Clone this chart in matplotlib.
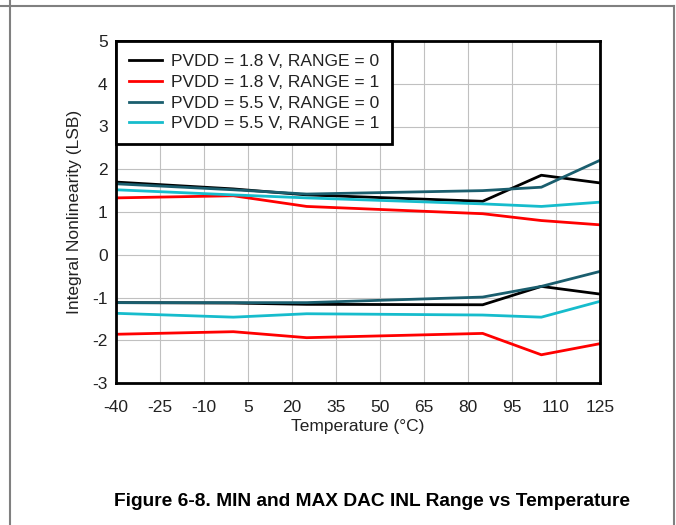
import numpy as np
import matplotlib
matplotlib.use("Agg")
import matplotlib.pyplot as plt
from matplotlib.lines import Line2D
from matplotlib import font_manager

# temperature points (deg C)
temps = [-40, 0, 25, 85, 105, 125]

# max / min INL (LSB) per configuration
inl_18_r0_max = [1.70, 1.54, 1.40, 1.25, 1.86, 1.68]
inl_18_r0_min = [-1.12, -1.13, -1.16, -1.17, -0.74, -0.92]
inl_18_r1_max = [1.33, 1.38, 1.13, 0.96, 0.80, 0.70]
inl_18_r1_min = [-1.86, -1.80, -1.94, -1.84, -2.34, -2.08]
inl_55_r0_max = [1.66, 1.52, 1.42, 1.50, 1.58, 2.21]
inl_55_r0_min = [-1.12, -1.12, -1.12, -0.99, -0.74, -0.39]
inl_55_r1_max = [1.52, 1.40, 1.33, 1.19, 1.13, 1.23]
inl_55_r1_min = [-1.37, -1.46, -1.38, -1.41, -1.46, -1.09]

labels = ["PVDD = 1.8 V, RANGE = 0", "PVDD = 1.8 V, RANGE = 1",
          "PVDD = 5.5 V, RANGE = 0", "PVDD = 5.5 V, RANGE = 1"]
colors = ["#000000", "#ff0000", "#1a5e6e", "#16bccc"]

xticks = [-40, -25, -10, 5, 20, 35, 50, 65, 80, 95, 110, 125]

names = {f.name for f in font_manager.fontManager.ttflist}
title_font = "Liberation Sans Narrow" if "Liberation Sans Narrow" in names else "Liberation Sans"

plt.rcParams["font.family"] = ["Liberation Sans", "DejaVu Sans"]
plt.rcParams["axes.unicode_minus"] = False

fs = 12.5
txt = "#222222"

fig = plt.figure(figsize=(6.76, 5.25), dpi=100)
W, H = 676, 525
ax = fig.add_axes([116 / W, 1 - 383 / H, (600 - 116) / W, (383 - 41) / H])

series = [(inl_18_r0_max, inl_18_r0_min), (inl_18_r1_max, inl_18_r1_min),
          (inl_55_r0_max, inl_55_r0_min), (inl_55_r1_max, inl_55_r1_min)]
for (hi, lo), c, lab in zip(series, colors, labels):
    ax.plot(temps, hi, color=c, lw=2, label=lab)
    ax.plot(temps, lo, color=c, lw=2)

ax.set_xlim(-40, 125)
ax.set_ylim(-3, 5)
ax.set_xticks(xticks)
ax.set_yticks(range(-3, 6))
ax.grid(True, color="#c0c0c0", lw=0.8)
ax.set_axisbelow(True)
ax.tick_params(length=0, labelsize=fs, labelcolor=txt)
ax.tick_params(axis="x", pad=12)
ax.tick_params(axis="y", pad=6)
for s in ax.spines.values():
    s.set_linewidth(2)
    s.set_color("black")

ax.set_xlabel("Temperature (°C)", fontsize=fs, color=txt, labelpad=3)
ax.set_ylabel("Integral Nonlinearity (LSB)", fontsize=fs, color=txt, labelpad=7)

leg = ax.legend(loc="upper left", bbox_to_anchor=(0, 1), fontsize=fs,
                fancybox=False, framealpha=1, edgecolor="black",
                borderaxespad=0, handlelength=1.9, handletextpad=0.5,
                labelspacing=0.32, borderpad=0.75)
leg.get_frame().set_linewidth(2)
for t in leg.get_texts():
    t.set_color(txt)

# page frame
fig.add_artist(Line2D([0, 674 / W], [1 - 5.5 / H, 1 - 5.5 / H], color="#808080", lw=1.5))
fig.add_artist(Line2D([9.5 / W, 9.5 / W], [0, 1], color="#808080", lw=1.5))
fig.add_artist(Line2D([674 / W, 674 / W], [0, 1 - 5.5 / H], color="#808080", lw=1.5))

fig.text(372 / W, 1 - 502 / H, "Figure 6-8. MIN and MAX DAC INL Range vs Temperature",
         ha="center", va="center", fontsize=13.8, fontweight="bold",
         family=[title_font, "DejaVu Sans"])

fig.savefig("out.png", dpi=100)
